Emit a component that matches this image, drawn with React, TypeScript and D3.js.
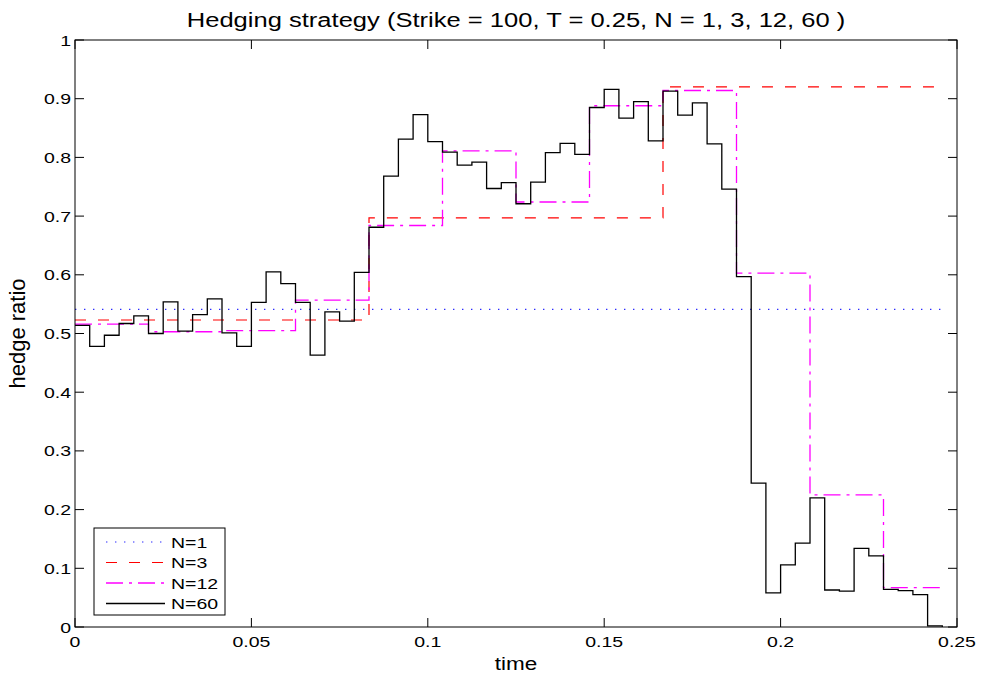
import { useEffect, useRef } from 'react';
import * as d3 from 'd3';

// hedge ratios
const T = 0.25;
const GRID = 60; // finest rebalancing grid, all curves end at its last node
const N1 = [0.541];
const N3 = [0.523, 0.697, 0.92];
const N12 = [0.516, 0.503, 0.505, 0.557, 0.684, 0.811, 0.724, 0.888, 0.914, 0.603, 0.225, 0.067];
const N60 = [
  0.514, 0.478, 0.497, 0.517, 0.53, 0.5, 0.554, 0.504, 0.532, 0.559,
  0.501, 0.478, 0.553, 0.605, 0.585, 0.553, 0.463, 0.537, 0.521, 0.604,
  0.681, 0.768, 0.831, 0.873, 0.827, 0.809, 0.787, 0.792, 0.747, 0.757,
  0.721, 0.758, 0.808, 0.824, 0.805, 0.885, 0.916, 0.867, 0.895, 0.828,
  0.913, 0.872, 0.893, 0.823, 0.746, 0.597, 0.245, 0.058, 0.106, 0.143,
  0.22, 0.063, 0.061, 0.134, 0.121, 0.064, 0.062, 0.055, 0.002, 0.0,
];
const X_TICKS = [0, 0.05, 0.1, 0.15, 0.2, 0.25];
const Y_TICKS = [0, 0.1, 0.2, 0.3, 0.4, 0.5, 0.6, 0.7, 0.8, 0.9, 1];

const SERIES = [
  { label: 'N=1', values: N1, colour: '#2b2bff', dash: '1.4,7.6', width: 1.2 },
  { label: 'N=3', values: N3, colour: '#ff0000', dash: '11,12', width: 1.2 },
  { label: 'N=12', values: N12, colour: '#ff00ff', dash: '17,6,3,6', width: 1.3 },
  { label: 'N=60', values: N60, colour: '#000000', dash: null, width: 1.3 },
];

const W = 981;
const H = 674;
const PAD = { left: 75, right: 24, top: 40, bottom: 47 };
const FONT = '"Liberation Sans", Arial, sans-serif';
const SX = 1.3; // the figure's text is stretched sideways

// stairs over the rebalancing dates, cut at the last node of the 60-step grid
function stairs(values: number[]): [number, number][] {
  const n = values.length;
  const tEnd = ((GRID - 1) * T) / GRID;
  const pts: [number, number][] = [];
  values.forEach((v, k) => {
    const t0 = (k * T) / n;
    const t1 = Math.min(((k + 1) * T) / n, tEnd);
    pts.push([t0, v], [t1, v]);
  });
  return pts;
}

export default function App() {
  const svgRef = useRef<SVGSVGElement>(null);

  useEffect(() => {
    if (!svgRef.current) return;
    const svg = d3.select(svgRef.current);
    svg.selectAll('*').remove();

    const x = d3.scaleLinear().domain([0, T]).range([PAD.left, W - PAD.right]);
    const y = d3.scaleLinear().domain([0, 1]).range([H - PAD.bottom, PAD.top]);
    const [x0, x1] = x.range();
    const [y0, y1] = y.range();

    svg.append('rect').attr('width', W).attr('height', H).attr('fill', '#fff');

    const line = d3
      .line<[number, number]>()
      .x((d) => x(d[0]))
      .y((d) => y(d[1]));

    const plot = svg.append('g');
    SERIES.forEach((s) => {
      plot
        .append('path')
        .attr('d', line(stairs(s.values)))
        .attr('fill', 'none')
        .attr('stroke', s.colour)
        .attr('stroke-width', s.width)
        .attr('stroke-dasharray', s.dash ?? null);
    });

    // box + inward ticks on all four sides
    const axes = svg.append('g').attr('stroke', '#000').attr('stroke-width', 1).attr('fill', 'none');
    axes.append('rect').attr('x', x0).attr('y', y1).attr('width', x1 - x0).attr('height', y0 - y1);
    const TL = 9;
    X_TICKS.forEach((t) => {
      axes.append('line').attr('x1', x(t)).attr('x2', x(t)).attr('y1', y0).attr('y2', y0 - TL);
      axes.append('line').attr('x1', x(t)).attr('x2', x(t)).attr('y1', y1).attr('y2', y1 + TL);
    });
    Y_TICKS.forEach((t) => {
      axes.append('line').attr('x1', x0).attr('x2', x0 + TL).attr('y1', y(t)).attr('y2', y(t));
      axes.append('line').attr('x1', x1).attr('x2', x1 - TL).attr('y1', y(t)).attr('y2', y(t));
    });

    const txt = svg.append('g').attr('font-family', FONT).attr('fill', '#000');
    const label = (tx: number, ty: number, s: string, size: number, anchor: string, sx = SX) =>
      txt
        .append('text')
        .attr('transform', `translate(${tx},${ty}) scale(${sx},1)`)
        .attr('text-anchor', anchor)
        .attr('font-size', size)
        .text(s);

    X_TICKS.forEach((t) => label(x(t), y0 + 20, d3.format('~g')(t), 15, 'middle'));
    Y_TICKS.forEach((t) => label(x0 - 4, y(t) + 5.5, d3.format('~g')(t), 15, 'end'));

    label((x0 + x1) / 2, 670, 'time', 18, 'middle', 1.25);
    label(
      (x0 + x1) / 2,
      27,
      'Hedging strategy (Strike = 100, T = 0.25, N = 1, 3, 12, 60 )',
      19.5,
      'middle',
      1.31,
    );

    txt
      .append('text')
      .attr('transform', `translate(25,${(y0 + y1) / 2}) rotate(-90)`)
      .attr('text-anchor', 'middle')
      .attr('font-size', 22)
      .text('hedge ratio');

    // legend
    const lg = svg.append('g').attr('transform', 'translate(94,528)');
    lg.append('rect')
      .attr('width', 131)
      .attr('height', 87)
      .attr('fill', '#fff')
      .attr('stroke', '#000')
      .attr('stroke-width', 1);
    SERIES.forEach((s, i) => {
      const ly = 14 + i * 20.5;
      lg.append('line')
        .attr('x1', 12)
        .attr('x2', 71)
        .attr('y1', ly)
        .attr('y2', ly)
        .attr('stroke', s.colour)
        .attr('stroke-width', s.width)
        .attr('stroke-dasharray', s.dash ?? null);
      lg.append('text')
        .attr('transform', `translate(77,${ly + 5.5}) scale(${SX},1)`)
        .attr('font-family', FONT)
        .attr('font-size', 15)
        .text(s.label);
    });
  }, []);

  return (
    <svg
      ref={svgRef}
      width={W}
      height={H}
      style={{ position: 'absolute', left: 0, top: 0, display: 'block' }}
    />
  );
}
